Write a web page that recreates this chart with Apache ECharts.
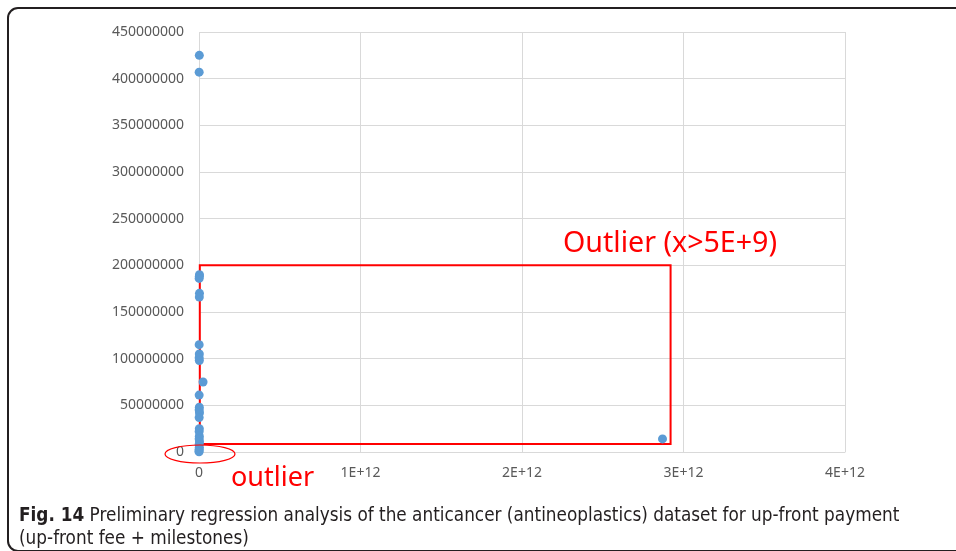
<!DOCTYPE html>
<html>
<head>
<meta charset="utf-8">
<script src="https://cdn.jsdelivr.net/npm/echarts@6/dist/echarts.min.js"></script>
<style>html,body{margin:0;padding:0;background:#fff;}#c{width:956px;height:551px;}</style>
</head>
<body>
<div id="c"></div>
<script>
// Data
const xVals = [2e9, 1e9, 3e9, 2e9, 1e9, 3e9, 2e9, 1e9, 2e9, 1e9, 2e9, 2.5e10, 1e9, 2e9, 1e9, 3e9, 1e9, 2e9, 1e9, 2e9, 1e9, 3e9, 1e9, 2e9, 1e9, 5e8, 3e8, 2.87e12];
const yVals = [425e6, 407e6, 190e6, 188e6, 186e6, 170e6, 166e6, 115e6, 105e6, 101e6, 98e6, 75e6, 61e6, 48e6, 45e6, 42e6, 37e6, 25e6, 22e6, 17e6, 14e6, 11e6, 8e6, 5e6, 3e6, 1e6, 3e5, 14e6];
const xTickLabels = ['0', '1E+12', '2E+12', '3E+12', '4E+12'];
const yTickLabels = ['0', '50000000', '100000000', '150000000', '200000000', '250000000', '300000000', '350000000', '400000000', '450000000'];
const outlierBox = [[5e9, 200e6], [2.92e12, 8.6e6]];
const outlierText = 'Outlier (x>5E+9)';
const outlierLabel = 'outlier';
const captionBold = 'Fig. 14';
const captionLine1 = ' Preliminary regression analysis of the anticancer (antineoplastics) dataset for up-front payment';
const captionLine2 = '(up-front fee + milestones)';

const points = xVals.map((x, i) => [x, yVals[i]]);
const chart = echarts.init(document.getElementById('c'), null, {renderer: 'canvas'});
const labelFont = '"Noto Sans", "Open Sans", sans-serif';
const capFont = '"DejaVu Sans Condensed", "Liberation Sans Narrow", sans-serif';
const option = {
  animation: false,
  backgroundColor: '#ffffff',
  grid: {left: 199, right: 111, top: 32, bottom: 99},
  xAxis: {
    type: 'value', min: 0, max: 4e12, interval: 1e12,
    axisLine: {show: true, lineStyle: {color: '#d9d9d9', width: 1}},
    axisTick: {show: false},
    axisLabel: {color: '#595959', fontSize: 14, fontFamily: labelFont, margin: 14,
      formatter: (v) => xTickLabels[Math.round(v / 1e12)]},
    splitLine: {show: true, lineStyle: {color: '#d9d9d9', width: 1}}
  },
  yAxis: {
    type: 'value', min: 0, max: 450e6, interval: 50e6,
    axisLine: {show: false},
    axisTick: {show: false},
    axisLabel: {color: '#595959', fontSize: 14, fontFamily: labelFont, margin: 15,
      formatter: (v) => yTickLabels[Math.round(v / 50e6)]},
    splitLine: {show: true, lineStyle: {color: '#d9d9d9', width: 1}}
  },
  series: [{
    type: 'scatter',
    data: points,
    symbolSize: 9,
    itemStyle: {color: '#5b9bd5', opacity: 1},
    z: 3,
    markArea: {
      silent: true,
      itemStyle: {color: 'rgba(0,0,0,0)', borderColor: '#ff0000', borderWidth: 2},
      label: {show: false},
      data: [[{coord: outlierBox[0]}, {coord: outlierBox[1]}]]
    }
  }],
  graphic: [
    {type: 'rect', shape: {x: 8, y: 8, width: 1000, height: 543, r: 10},
      style: {fill: null, stroke: '#231f20', lineWidth: 2}, z: 10},
    {type: 'ellipse', shape: {cx: 200, cy: 454, rx: 35, ry: 9},
      style: {fill: null, stroke: '#ff0000', lineWidth: 1.2}, z: 10},
    {type: 'text', left: 563, top: 229,
      style: {text: outlierText, fill: '#ff0000', font: '28.6px "Noto Sans", sans-serif'}, z: 10},
    {type: 'text', left: 231, top: 465,
      style: {text: outlierLabel, fill: '#ff0000', font: '27px "Noto Sans", sans-serif'}, z: 10},
    {type: 'text', left: 19, top: 507,
      style: {
        text: '{b|' + captionBold + '}{n|' + captionLine1 + '}\n{n|' + captionLine2 + '}',
        rich: {
          b: {fontWeight: 'bold', fontSize: 18.8, fontFamily: capFont, fill: '#231f20', lineHeight: 23},
          n: {fontSize: 18.8, fontFamily: capFont, fill: '#231f20', lineHeight: 23}
        }
      }, z: 10}
  ]
};
chart.setOption(option);
</script>
</body>
</html>
